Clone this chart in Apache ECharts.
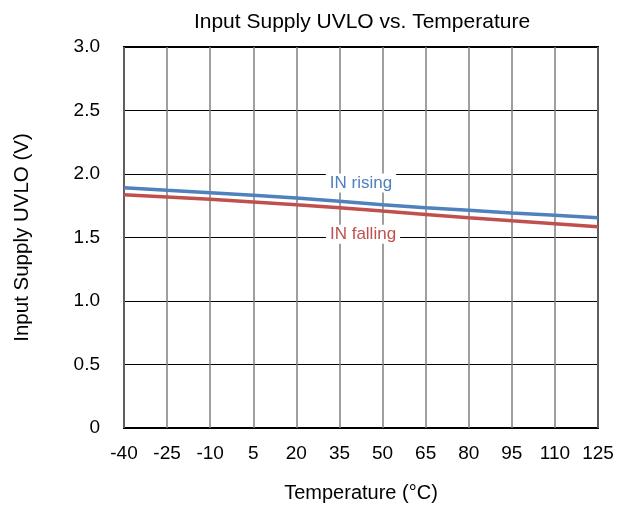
<!DOCTYPE html>
<html>
<head>
<meta charset="utf-8">
<script src="https://cdn.jsdelivr.net/npm/echarts@6/dist/echarts.min.js"></script>
<style>
  html, body { margin: 0; padding: 0; background: #fff; }
  #chart { width: 628px; height: 505px; }
</style>
</head>
<body>
<div id="chart"></div>
<script>
// Temperature sweep (°C) and measured UVLO thresholds (V)
const temperatures = [-40, -25, -10, 5, 20, 35, 50, 65, 80, 95, 110, 125];
const inRising  = [1.892, 1.872, 1.853, 1.832, 1.811, 1.785, 1.758, 1.735, 1.714, 1.693, 1.675, 1.656];
const inFalling = [1.837, 1.819, 1.801, 1.780, 1.757, 1.735, 1.708, 1.682, 1.656, 1.632, 1.609, 1.585];
const xTicks = { min: -40, max: 125, step: 15 };
const yTicks = { min: 0, max: 3, step: 0.5 };

const FONT = 'Liberation Sans, Arial, sans-serif';
const BLUE = '#4F81BD';
const RED = '#C0504D';

function pairs(xs, ys) { return xs.map((x, i) => [x, ys[i]]); }

function curveLabel(text, color, coord) {
  return {
    symbol: 'rect', symbolSize: 0,
    data: [{ coord: coord }],
    label: {
      show: true, formatter: text, position: 'inside',
      fontFamily: FONT, fontSize: 17, color: color,
      backgroundColor: '#fff', padding: [1, 4]
    }
  };
}

const chart = echarts.init(document.getElementById('chart'), null, { renderer: 'canvas' });
chart.setOption({
  animation: false,
  backgroundColor: '#fff',
  title: {
    text: 'Input Supply UVLO vs. Temperature',
    left: 357, top: 7, textAlign: 'center',
    textStyle: { fontFamily: FONT, fontSize: 21, fontWeight: 'normal', color: '#000' }
  },
  grid: {
    left: 124, right: 30, top: 47, bottom: 77,
    outerBoundsMode: 'none', containLabel: false,
    show: true, borderColor: '#000', borderWidth: 2, backgroundColor: 'transparent'
  },
  xAxis: {
    type: 'value',
    min: xTicks.min, max: xTicks.max, interval: xTicks.step,
    name: 'Temperature (°C)', nameLocation: 'middle', nameGap: 55,
    nameTextStyle: { fontFamily: FONT, fontSize: 20, color: '#000' },
    axisLine: { show: false }, axisTick: { show: false },
    axisLabel: { fontFamily: FONT, fontSize: 19, color: '#000', margin: 16 },
    splitLine: { show: true, lineStyle: { color: '#7f7f7f', width: 1.5 } }
  },
  yAxis: {
    type: 'value',
    min: yTicks.min, max: yTicks.max, interval: yTicks.step,
    name: 'Input Supply UVLO (V)', nameLocation: 'middle', nameGap: 91,
    nameTextStyle: { fontFamily: FONT, fontSize: 20.5, color: '#000' },
    axisLine: { show: false }, axisTick: { show: false },
    axisLabel: {
      fontFamily: FONT, fontSize: 19, color: '#000', margin: 24,
      formatter: v => (v === 0 ? '0' : v.toFixed(1))
    },
    splitLine: { show: true, lineStyle: { color: '#000', width: 1 } }
  },
  series: [
    {
      name: 'IN rising', type: 'line', data: pairs(temperatures, inRising),
      showSymbol: false, lineStyle: { color: BLUE, width: 3.5 }, z: 3,
      markPoint: curveLabel('IN rising', BLUE, [42.5, 1.93])
    },
    {
      name: 'IN falling', type: 'line', data: pairs(temperatures, inFalling),
      showSymbol: false, lineStyle: { color: RED, width: 3.5 }, z: 3,
      markPoint: curveLabel('IN falling', RED, [43.2, 1.525])
    }
  ]
});
</script>
</body>
</html>
